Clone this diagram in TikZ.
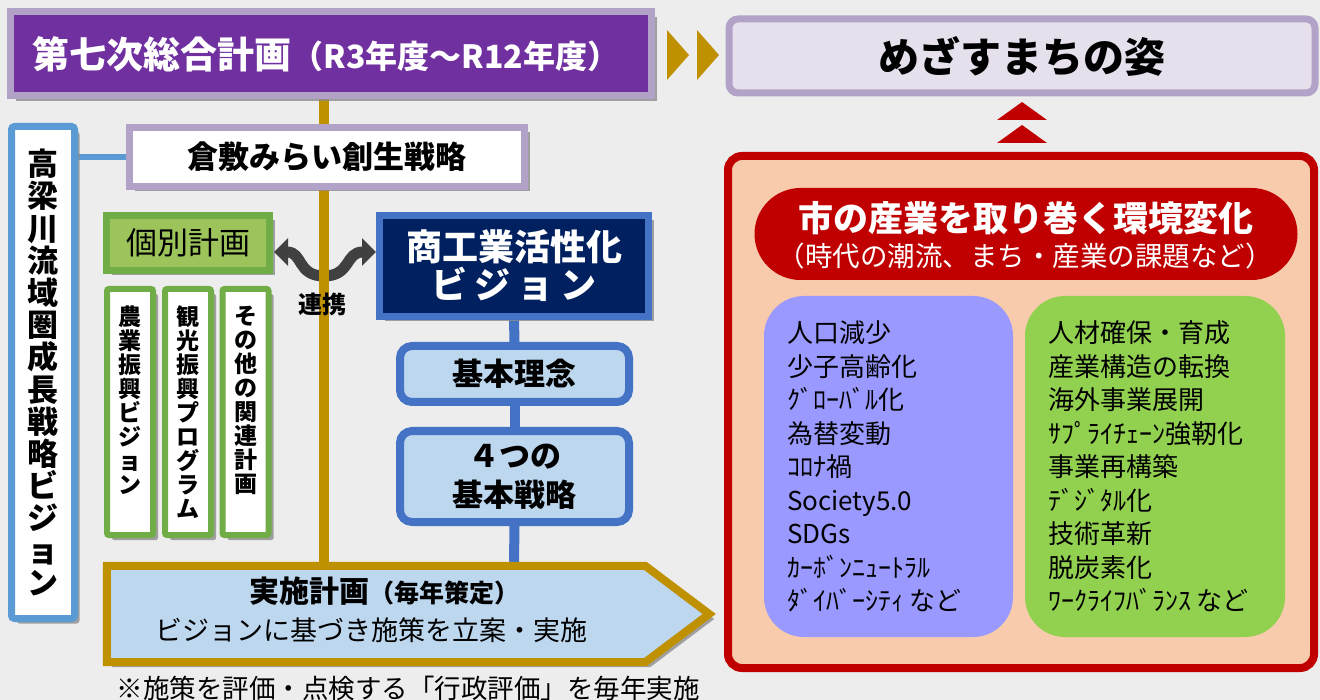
\documentclass[tikz,border=0pt]{standalone}
\usepackage{fontspec}
\setmainfont{Noto Sans CJK JP}
\usetikzlibrary{calc,arrows.meta,shadows,backgrounds}
\definecolor{bgc}{HTML}{EDEDED}
\definecolor{pdark}{HTML}{7030A0}
\definecolor{plight}{HTML}{B3A2C7}
\definecolor{gold}{HTML}{BF9000}
\definecolor{lav}{HTML}{E5E0EC}
\definecolor{redc}{HTML}{C00000}
\definecolor{peach}{HTML}{F8CBAD}
\definecolor{peri}{HTML}{9999FF}
\definecolor{lime}{HTML}{92D050}
\definecolor{bmid}{HTML}{5B9BD5}
\definecolor{bdark}{HTML}{4472C4}
\definecolor{navy}{HTML}{002060}
\definecolor{pale}{HTML}{BDD7EE}
\definecolor{gborder}{HTML}{70AD47}
\definecolor{gfill}{HTML}{9DC35B}
\definecolor{agray}{HTML}{404040}
\newcommand{\myfs}[2]{\fontsize{#1}{#2}\selectfont}
\begin{document}
\begin{tikzpicture}[x=1pt,y=-1pt,
  shad/.style={drop shadow={shadow xshift=5pt,shadow yshift=-5pt,fill=black!45,opacity=0.8}},
  box/.style={rectangle,inner sep=0pt,align=center},
  goldline/.style={draw=gold,line width=10pt},
  blueline/.style={draw=bdark,line width=10pt},
  vtext/.style={align=center,inner sep=0pt,font=\bfseries\myfs{23}{24}}
]
\useasboundingbox (0,0) rectangle (1320,700);
\begin{scope}[on background layer]
\fill[bgc] (0,0) rectangle (1320,700);
\end{scope}

% top plan
\node[box,shad,fill=pdark,draw=plight,line width=7pt,minimum width=641pt,minimum height=84pt,text=white] (plan) at (331,54)
  {\hspace*{-10pt}{\bfseries\myfs{37}{40}第七次総合計画}{\bfseries\myfs{32}{40}（R3年度～R12年度）}};

% goal
\node[box,fill=lav,draw=plight,line width=7pt,rounded corners=9pt,minimum width=586pt,minimum height=74pt] (goal) at (1022,56)
  {\bfseries\myfs{41}{44}めざすまちの姿};

% gold triangles
\fill[gold] (667,30) -- (689,55) -- (667,80) -- cycle;
\fill[gold] (697,30) -- (719,55) -- (697,80) -- cycle;

% red up triangles
\fill[redc] (997,120) -- (1022,102) -- (1047,120) -- cycle;
\fill[redc] (997,143) -- (1022,125) -- (1047,143) -- cycle;

% red big box
\node[box,fill=peach,draw=redc,line width=8pt,rounded corners=14pt,minimum width=586pt,minimum height=512pt] (env) at (1021,412) {};
\node[box,fill=redc,rounded corners=46pt,minimum width=543pt,minimum height=92pt] (pill) at (1026,234) {};
\node[inner sep=0pt,text=white,font=\bfseries\myfs{35}{38}] (pillt1) at (1026,218) {市の産業を取り巻く環境変化};
\node[inner sep=0pt,text=white,font=\myfs{27.5}{30}] (pillt2) at (1025,256) {（時代の潮流、まち・産業の課題など）};
\node[box,fill=peri,rounded corners=40pt,minimum width=249pt,minimum height=341pt] (lista) at (888.5,466.5) {};
\node[box,fill=lime,rounded corners=40pt,minimum width=260pt,minimum height=341pt] (listb) at (1155,466.5) {};
\node[anchor=west,align=left,inner sep=0pt,font=\myfs{26}{33.5}] (ta) at ($(lista.west)+(23,0)$)
  {人口減少\\少子高齢化\\ｸﾞﾛｰﾊﾞﾙ化\\為替変動\\ｺﾛﾅ禍\\Society5.0\\SDGs\\ｶｰﾎﾞﾝﾆｭｰﾄﾗﾙ\\ﾀﾞｲﾊﾞｰｼﾃｨ など};
\node[anchor=west,align=left,inner sep=0pt,font=\myfs{26}{33.5}] (tb) at ($(listb.west)+(23,0)$)
  {人材確保・育成\\産業構造の転換\\海外事業展開\\ｻﾌﾟﾗｲﾁｪｰﾝ強靭化\\事業再構築\\ﾃﾞｼﾞﾀﾙ化\\技術革新\\脱炭素化\\ﾜｰｸﾗｲﾌﾊﾞﾗﾝｽ など};

% left vertical vision
\node[box,shad,fill=white,draw=bmid,line width=7pt,rounded corners=3pt,minimum width=63pt,minimum height=492pt] (takahashi) at (43,372.5) {};
\node[align=center,inner sep=0pt,font=\bfseries\myfs{31}{32.2}] (takahashitext) at (takahashi.center)
  {高\\梁\\川\\流\\域\\圏\\成\\長\\戦\\略\\ビ\\ジ\\ョ\\ン};

% kurashiki
\node[box,shad,fill=white,draw=plight,line width=7pt,minimum width=395pt,minimum height=59pt] (kurashiki) at (327,157)
  {\bfseries\myfs{31}{34}倉敷みらい創生戦略};

% kobetsu
\node[box,shad,fill=gfill,draw=gborder,line width=7pt,minimum width=163pt,minimum height=55pt] (kobetsu) at (188,243)
  {\myfs{31}{34}個別計画};

% three vertical plans
\node[box,shad,fill=white,draw=gborder,line width=6pt,rounded corners=2pt,minimum width=46pt,minimum height=246pt] (nogyo) at (130,412) {};
\node[box,shad,fill=white,draw=gborder,line width=6pt,rounded corners=2pt,minimum width=46pt,minimum height=246pt] (kanko) at (188,412) {};
\node[box,shad,fill=white,draw=gborder,line width=6pt,rounded corners=2pt,minimum width=46pt,minimum height=246pt] (sonota) at (245.5,412) {};
\node[vtext,anchor=north] (nogyot) at ($(nogyo.north)+(0,20)$) {農\\業\\振\\興\\ビ\\ジ\\ョ\\ン};
\node[vtext,anchor=north] (kankot) at ($(kanko.north)+(0,20)$) {観\\光\\振\\興\\プ\\ロ\\グ\\ラ\\ム};
\node[vtext,anchor=north] (sonotat) at ($(sonota.north)+(0,20)$) {そ\\の\\他\\の\\関\\連\\計\\画};

% shoko vision
\node[box,shad,fill=navy,draw=bdark,line width=7pt,minimum width=269pt,minimum height=101pt,text=white,font=\bfseries\myfs{36}{38}] (shoko) at (514,266)
  {商工業活性化\\ビ\hspace{7pt}ジ\hspace{7pt}ョ\hspace{7pt}ン};

% kihon
\node[box,fill=pale,draw=bdark,line width=8pt,rounded corners=12pt,minimum width=229pt,minimum height=56pt] (kihon) at (514.5,374)
  {\bfseries\myfs{31}{34}基本理念};
\node[box,fill=pale,draw=bdark,line width=8pt,rounded corners=12pt,minimum width=229pt,minimum height=91pt,font=\bfseries\myfs{31}{39}] (senryaku) at (514.5,476.5)
  {４つの\\基本戦略};

% jisshi (implementation plan)
\node[box,minimum width=538pt,minimum height=96pt] (jisshi) at (376,614) {};
\node[inner sep=0pt] (jt1) at (384,591) {{\bfseries\myfs{30}{32}実施計画}{\bfseries\myfs{25}{32}（毎年策定）}};
\node[inner sep=0pt] (jt2) at (371,630) {\myfs{27}{30}ビジョンに基づき施策を立案・実施};
\begin{scope}[on background layer]
\draw[gold,fill=pale,line width=8pt,shad] (jisshi.north west) -- (jisshi.north east) -- ($(jisshi.east)+(64,0)$) -- (jisshi.south east) -- (jisshi.south west) -- cycle;
\coordinate (gx) at (324,0);
\coordinate (bx) at (514,0);
\draw[goldline] (plan.south -| gx) -- ($(jisshi.north -| gx)+(0,-4)$);
\draw[blueline] (shoko.south) -- (kihon.north);
\draw[blueline] (kihon.south) -- (senryaku.north);
\draw[blueline] (senryaku.south) -- ($(jisshi.north -| bx)+(0,-4)$);
\draw[draw=bmid,line width=6pt] (kurashiki.west -| takahashi.east) -- (kurashiki.west);
\end{scope}

% renkei arrow
\draw[agray,line width=11pt,{Triangle[width=27pt,length=14pt]}-{Triangle[width=27pt,length=14pt]}]
  ($(kobetsu.east)+(1,9)$) .. controls (303,252) and (297,276) .. (324,276) .. controls (351,276) and (345,252) .. ($(shoko.west)+(0,-14)$);
\draw[goldline] (324,240) -- (324,290);
\node[inner sep=0pt,font=\bfseries\myfs{24}{26}] (renkei) at (322,304) {連携};

% footnote
\node[inner sep=0pt,font=\myfs{26.5}{28}] (note) at (408,688) {※施策を評価・点検する「行政評価」を毎年実施};
\end{tikzpicture}
\end{document}
